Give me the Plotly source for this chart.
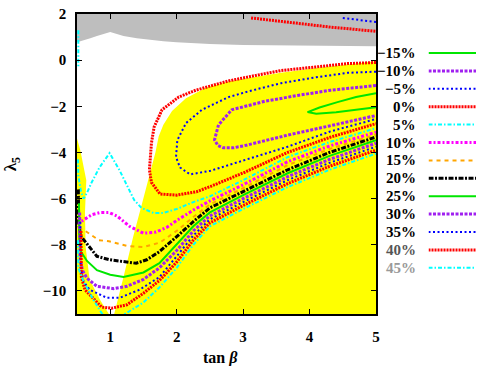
import plotly.graph_objects as go

# ---------------- data ----------------
levels = ["−15%", "−10%", "−5%", "0%", "5%", "10%", "15%", "20%", "25%", "30%", "35%", "40%", "45%"]

# excluded (gray) region: lower boundary, top is y=2
gray_x = [0.5, 0.6, 0.7, 0.8, 0.9, 1.0, 1.1, 1.2, 1.4, 1.6, 1.8, 2.0, 2.5, 3.0, 3.5, 4.0, 4.5, 5.0]
gray_y = [0.78, 0.85, 0.95, 1.05, 1.14, 1.22, 1.13, 1.05, 0.95, 0.87, 0.82, 0.78, 0.7, 0.66, 0.64, 0.63, 0.62, 0.6]

# allowed (yellow) region outline
yel_x = [0.5, 0.5, 0.55, 0.6, 0.64, 0.62, 0.63, 0.69, 0.85, 0.98, 1.06, 1.2, 1.35, 1.48, 1.57, 1.63, 1.68,
         1.73, 1.8, 1.93, 2.14, 2.44, 2.78, 3.2, 3.57, 4.08, 4.57, 5.0, 5.0]
yel_y = [-11, -3.4, -3.9, -4.6, -5.2, -6.6, -8.1, -9.5, -10.4, -11, -11, -9.4, -7.6, -6.2, -5.2, -4.6, -4.0,
         -3.3, -2.8, -2.2, -1.65, -1.2, -0.92, -0.72, -0.55, -0.35, -0.2, -0.05, -11]

# contour lines (None separates pieces)
m15_x = [5.0, 4.7, 4.42, 4.15, 3.97, 4.1, 4.4, 4.67, 5.0]
m15_y = [-1.43, -1.6, -1.82, -2.05, -2.25, -2.32, -2.26, -2.17, -2.04]

m10_x = [5.0, 4.32, 3.82, 3.33, 2.83, 2.63, 2.57, 2.62, 2.7, 2.85, 3.0, 3.3, 3.67, 4.3, 5.0]
m10_y = [-1.1, -1.3, -1.53, -1.78, -2.15, -2.8, -3.45, -3.7, -3.8, -3.8, -3.72, -3.5, -3.25, -2.85, -2.4]

m5_x = [5.0, 4.57, 4.08, 3.57, 3.08, 2.78, 2.38, 2.14, 2.01, 1.99, 2.05, 2.2, 2.5, 3.03, 3.67, 4.3, 5.0,
        None, 4.5, 4.75, 5.0]
m5_y = [-0.5, -0.55, -0.75, -1.0, -1.35, -1.6, -2.15, -2.73, -3.47, -4.2, -4.65, -4.95, -4.8, -4.33, -3.75, -3.1, -2.55,
        None, 1.83, 1.74, 1.65]

p0_x = [5.0, 4.57, 4.08, 3.57, 3.23, 2.78, 2.29, 2.03, 1.78, 1.66, 1.62, 1.59, 1.62, 1.75, 2.0, 2.3, 2.53, 3.03,
        3.67, 4.3, 5.0, None, 3.12, 3.82, 4.32, 5.0]
p0_y = [-0.1, -0.15, -0.3, -0.45, -0.64, -0.9, -1.3, -1.6, -2.15, -2.9, -3.6, -4.75, -5.3, -5.8, -5.85, -5.7, -5.45, -4.85,
        -4.0, -3.35, -2.75, None, 1.83, 1.61, 1.43, 1.25]

p5_x = [0.52, 0.515, 0.52, None, 0.515, 0.52, 0.56, 0.6, 0.65, 0.72, 0.84, 0.99, 1.14, 1.29, 1.36, 1.47, 1.65,
        1.8, 2.0, 2.25, 2.5, 3.0, 3.67, 4.3, 5.0]
p5_y = [1.3, 0.5, -0.3, None, -4.3, -5.0, -5.7, -6.0, -5.75, -5.3, -4.64, -4.03, -4.77, -5.63, -6.06, -6.4, -6.62,
        -6.62, -6.45, -6.15, -5.9, -5.2, -4.2, -3.55, -2.95]

p10_x = [0.505, 0.55, 0.63, 0.72, 0.85, 0.98, 1.1, 1.29, 1.5, 1.69, 1.85, 2.0, 2.25, 2.5, 3.0, 3.67, 4.3, 5.0]
p10_y = [-7.1, -7.02, -6.85, -6.7, -6.6, -6.6, -6.75, -7.2, -7.5, -7.45, -7.25, -6.95, -6.5, -6.1, -5.4, -4.4, -3.72, -3.12]

p15_x = [0.52, 0.6, 0.7, 0.83, 0.98, 1.25, 1.5, 1.75, 2.0, 2.25, 2.5, 3.0, 3.67, 4.3, 5.0]
p15_y = [-7.3, -7.35, -7.55, -7.8, -7.85, -8.05, -8.1, -7.9, -7.4, -6.8, -6.25, -5.55, -4.55, -3.85, -3.22]

p20_x = [0.52, 0.525, 0.55, 0.65, 0.8, 0.99, 1.25, 1.39, 1.55, 1.74, 2.0, 2.25, 2.5, 3.0, 3.67, 4.3, 5.0]
p20_y = [-5.6, -7.0, -7.6, -7.95, -8.5, -8.65, -8.75, -8.8, -8.65, -8.3, -7.65, -7.0, -6.4, -5.7, -4.75, -4.0, -3.33]

p25_x = [0.53, 0.535, 0.56, 0.65, 0.8, 1.0, 1.2, 1.5, 1.74, 2.0, 2.25, 2.5, 3.0, 3.67, 4.3, 5.0]
p25_y = [-6.2, -7.8, -8.3, -8.7, -9.1, -9.3, -9.4, -9.2, -8.8, -8.0, -7.2, -6.6, -5.85, -4.9, -4.15, -3.47]

p30_x = [0.54, 0.545, 0.58, 0.65, 0.8, 1.05, 1.25, 1.5, 1.74, 2.0, 2.25, 2.5, 3.0, 3.67, 4.3, 5.0]
p30_y = [-6.6, -8.5, -9.1, -9.45, -9.8, -9.9, -9.8, -9.5, -9.0, -8.25, -7.4, -6.75, -6.0, -5.05, -4.3, -3.6]

p35_x = [0.55, 0.555, 0.6, 0.69, 0.95, 1.14, 1.44, 1.74, 2.0, 2.25, 2.5, 3.0, 3.67, 4.3, 5.0]
p35_y = [-7.0, -9.0, -9.6, -9.95, -10.3, -10.3, -9.95, -9.4, -8.5, -7.6, -6.9, -6.15, -5.2, -4.45, -3.75]

p40_x = [0.56, 0.565, 0.62, 0.7, 0.87, 1.02, 1.25, 1.5, 1.74, 2.0, 2.25, 2.5, 3.0, 3.67, 4.3, 5.0]
p40_y = [-7.4, -9.4, -9.95, -10.2, -10.7, -10.75, -10.6, -10.1, -9.55, -8.75, -7.8, -7.05, -6.3, -5.35, -4.6, -3.9]

p45_x = [0.515, 0.52, 0.6, 0.75, 0.88, 0.92, 1.15, 1.22, 1.5, 1.74, 2.0, 2.25, 2.5, 3.0, 3.67, 4.3, 5.0]
p45_y = [-7.8, -9.0, -9.6, -10.4, -11.0, -11.3, -11.3, -11.0, -10.5, -9.85, -9.0, -8.0, -7.2, -6.45, -5.5, -4.75, -4.05]

curves_x = [m15_x, m10_x, m5_x, p0_x, p5_x, p10_x, p15_x, p20_x, p25_x, p30_x, p35_x, p40_x, p45_x]
curves_y = [m15_y, m10_y, m5_y, p0_y, p5_y, p10_y, p15_y, p20_y, p25_y, p30_y, p35_y, p40_y, p45_y]

x_ticks = [1, 2, 3, 4, 5]
y_ticks = [-10, -8, -6, -4, -2, 0, 2]

# ---------------- styles ----------------
GREEN, PURPLE, BLUE, RED = "#00e600", "#a020f0", "#0000ff", "#ff0000"
CYAN, MAGENTA, ORANGE, BLACK = "#00ffff", "#ff00ff", "#ffa500", "#000000"
s_green = dict(color=GREEN, width=2, dash="solid")
s_purple = dict(color=PURPLE, width=3, dash="3px,1.5px")
s_blue = dict(color=BLUE, width=2, dash="2px,2.5px")
s_red = dict(color=RED, width=3, dash="2px,1px")
s_cyan = dict(color=CYAN, width=2, dash="4px,2px,1.5px,2px")
s_magenta = dict(color=MAGENTA, width=3, dash="3px,2px,2px,2px")
s_orange = dict(color=ORANGE, width=2, dash="4px,4px")
s_black = dict(color=BLACK, width=3, dash="5px,1.5px,2px,1.5px")
styles = [s_green, s_purple, s_blue, s_red, s_cyan, s_magenta, s_orange, s_black,
          s_green, s_purple, s_blue, s_red, s_cyan]
text_colors = ["#000"] * 11 + ["#555555", "#999999"]

FONT = "Liberation Serif"

fig = go.Figure()

# gray region
fig.add_trace(go.Scatter(x=gray_x + [5.0, 0.5], y=gray_y + [2.0, 2.0], fill="toself",
                         fillcolor="#bebebe", line=dict(width=0), mode="lines",
                         showlegend=False, hoverinfo="skip"))
# yellow region
fig.add_trace(go.Scatter(x=yel_x, y=yel_y, fill="toself", fillcolor="#ffff00",
                         line=dict(width=0), mode="lines", showlegend=False, hoverinfo="skip"))

for cx, cy, st, name in zip(curves_x, curves_y, styles, levels):
    fig.add_trace(go.Scatter(x=cx, y=cy, mode="lines", line=st, name=name,
                             showlegend=False, connectgaps=False))

# legend samples on a helper axis
for i, st in enumerate(styles):
    fig.add_trace(go.Scatter(x=[0, 1], y=[i, i], mode="lines", line=st,
                             xaxis="x2", yaxis="y2", showlegend=False, hoverinfo="skip"))

annotations = []
for i, (name, tc) in enumerate(zip(levels, text_colors)):
    annotations.append(dict(text=name, x=0.8536, xref="paper", y=i, yref="y2",
                            xanchor="right", yanchor="middle", showarrow=False,
                            font=dict(family=FONT, size=15, color=tc, weight="bold")))
annotations.append(dict(text="λ<sub>5</sub>", x=-0.162, xref="paper", y=0.5, yref="paper",
                        textangle=-90, showarrow=False, xanchor="center", yanchor="middle",
                        font=dict(family=FONT, size=17, color="#000", weight="bold")))
annotations.append(dict(text="tan <i>β</i>", x=0.36, xref="paper", y=-0.145, yref="paper",
                        showarrow=False, xanchor="center", yanchor="middle",
                        font=dict(family=FONT, size=16, color="#000", weight="bold")))

axis_common = dict(showgrid=False, zeroline=False, showline=True, linecolor="black", linewidth=1.5,
                   mirror="ticks", ticks="inside", ticklen=5, tickcolor="black", tickwidth=1,
                   tickfont=dict(family=FONT, size=15, color="black", weight="bold"))

fig.update_layout(
    width=482, height=366,
    margin=dict(l=77, r=2, t=14, b=52),
    paper_bgcolor="white", plot_bgcolor="white",
    showlegend=False,
    xaxis=dict(range=[0.5, 5], domain=[0, 0.7494], tickvals=x_ticks, ticklabelstandoff=8,
               **axis_common),
    yaxis=dict(range=[-11, 2], tickvals=y_ticks, ticklabelstandoff=6,
               tickformat="d", **axis_common),
    xaxis2=dict(domain=[0.881, 1.0], range=[0, 1], visible=False, anchor="y2"),
    yaxis2=dict(domain=[0, 1], range=[14.58, -2.18], visible=False, anchor="x2"),
    annotations=annotations,
)

fig.write_html("out.html", config={"displayModeBar": False},
               post_script="document.body.style.margin='0';document.body.style.overflow='hidden';")
